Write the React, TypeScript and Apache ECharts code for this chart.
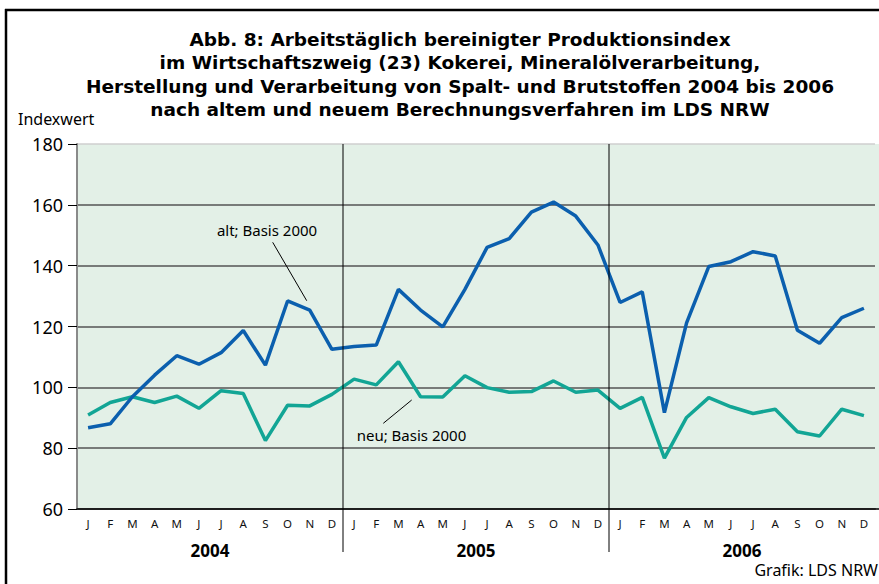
import React, { useEffect, useRef } from "react";
import * as echarts from "echarts";

const months = ["J", "F", "M", "A", "M", "J", "J", "A", "S", "O", "N", "D"];
const years = ["2004", "2005", "2006"];
const categories: string[] = years.flatMap(() => months);

const altValues = [
  86.7, 88.0, 96.9, 104.0, 110.4, 107.6, 111.4, 118.7, 107.3, 128.4, 125.4, 112.5,
  113.4, 113.9, 132.2, 125.4, 119.9, 132.2, 146.0, 148.9, 157.6, 160.9, 156.3, 146.8,
  127.9, 131.4, 91.7, 121.2, 139.7, 141.3, 144.6, 143.2, 118.8, 114.5, 122.9, 126.0,
];
const neuValues = [
  90.9, 95.0, 96.9, 95.0, 97.1, 93.1, 98.9, 98.0, 82.5, 94.1, 93.9, 97.7,
  102.7, 100.8, 108.4, 96.9, 96.8, 103.8, 99.9, 98.4, 98.6, 102.1, 98.4, 99.1,
  93.1, 96.7, 76.7, 90.1, 96.6, 93.6, 91.4, 92.8, 85.4, 84.0, 92.8, 90.7,
];

const yMin = 60;
const yMax = 180;
const yStep = 20;

const titleLines = [
  "Abb. 8: Arbeitstäglich bereinigter Produktionsindex",
  "im Wirtschaftszweig (23) Kokerei, Mineralölverarbeitung,",
  "Herstellung und Verarbeitung von Spalt- und Brutstoffen 2004 bis 2006",
  "nach altem und neuem Berechnungsverfahren im LDS NRW",
];

const FONT = "'Noto Sans', 'Open Sans', sans-serif";
const TITLE_FONT = "'DejaVu Sans', sans-serif";
const BLUE = "#0b5fae";
const TEAL = "#12a595";
const BG = "#e3f0e7";

export default function App() {
  const ref = useRef<HTMLDivElement>(null);

  useEffect(() => {
    document.body.style.margin = "0";
    if (!ref.current) return;
    const chart = echarts.init(ref.current, null, { renderer: "svg" });

    const gridLeft = 77;
    const gridTop = 144;
    const gridWidth = 798;
    const gridBottomY = 509;

    const option: any = {
      animation: false,
      backgroundColor: "#ffffff",
      title: {
        text: titleLines.join("\n"),
        left: 460,
        top: 28,
        padding: 0,
        textAlign: "center",
        textStyle: {
          fontFamily: TITLE_FONT,
          fontWeight: "bold",
          fontSize: 18.5,
          lineHeight: 23.3,
          color: "#000",
        },
      },
      grid: {
        left: gridLeft,
        top: gridTop,
        width: gridWidth,
        height: gridBottomY - gridTop,
        show: true,
        backgroundColor: BG,
        borderWidth: 0,
      },
      xAxis: [
        {
          type: "category",
          data: categories,
          boundaryGap: true,
          axisLine: { show: true, lineStyle: { color: "#000", width: 1.5 } },
          axisTick: { show: false },
          axisLabel: {
            interval: 0,
            fontFamily: FONT,
            fontSize: 11.5,
            color: "#111",
            margin: 8,
          },
          splitLine: { show: false },
        },
        {
          type: "category",
          data: years,
          position: "bottom",
          offset: 26,
          boundaryGap: true,
          axisLine: { show: false },
          axisTick: { show: false },
          axisLabel: {
            interval: 0,
            fontFamily: FONT,
            fontWeight: "bold",
            fontSize: 17,
            color: "#000",
            margin: 7,
          },
        },
      ],
      yAxis: {
        type: "value",
        min: yMin,
        max: yMax,
        interval: yStep,
        name: "Indexwert",
        nameLocation: "end",
        nameGap: 17,
        nameTextStyle: {
          fontFamily: FONT,
          fontSize: 16,
          color: "#000",
          align: "left",
          padding: [0, 0, 0, -59],
        },
        axisLine: { show: true, lineStyle: { color: "#8a8a8a", width: 2 } },
        axisTick: { show: true, length: 9, lineStyle: { color: "#000", width: 1 } },
        axisLabel: {
          fontFamily: FONT,
          fontSize: 18,
          color: "#000",
          margin: 14,
        },
        splitLine: {
          show: true,
          lineStyle: {
            color: ["#555", "#555", "#555", "#555", "#555", "#555", "#cfcfcf"],
            width: 1.5,
          },
        },
      },
      series: [
        {
          name: "alt; Basis 2000",
          type: "line",
          data: altValues,
          symbol: "none",
          lineStyle: { color: BLUE, width: 3.5 },
          itemStyle: { color: BLUE },
          z: 3,
        },
        {
          name: "neu; Basis 2000",
          type: "line",
          data: neuValues,
          symbol: "none",
          lineStyle: { color: TEAL, width: 3.5 },
          itemStyle: { color: TEAL },
          z: 2,
        },
      ],
    };

    chart.setOption(option);

    // Year divider lines at the boundaries between years, computed from the axis scale
    const px = (i: number) => chart.convertToPixel({ xAxisIndex: 0 }, i) as number;
    const boundaries = [12, 24].map((i) => (px(i - 1) + px(i)) / 2);

    const graphics: any[] = [
      // outer frame
      { type: "line", shape: { x1: 5, y1: 10, x2: 879, y2: 10 }, style: { stroke: "#000", lineWidth: 2.5 } },
      { type: "line", shape: { x1: 6, y1: 9, x2: 6, y2: 584 }, style: { stroke: "#000", lineWidth: 2.5 } },
      // plot background extension to right edge
      { type: "rect", shape: { x: gridLeft + gridWidth, y: gridTop, width: 879 - gridLeft - gridWidth, height: gridBottomY - gridTop }, style: { fill: BG }, z: -1 },
      { type: "line", shape: { x1: gridLeft + gridWidth, y1: gridBottomY, x2: 879, y2: gridBottomY }, style: { stroke: "#000", lineWidth: 1.5 } },
      ...boundaries.map((x) => ({
        type: "line",
        shape: { x1: x, y1: gridTop, x2: x, y2: 552 },
        style: { stroke: "#000", lineWidth: 1 },
        z: 10,
      })),
      // annotations
      {
        type: "text",
        x: 267,
        y: 230,
        style: { text: "alt; Basis 2000", font: `15px ${FONT}`, fill: "#000", textAlign: "center", textVerticalAlign: "middle" },
        z: 10,
      },
      { type: "line", shape: { x1: 272.7, y1: 242.3, x2: 306.7, y2: 300.7 }, style: { stroke: "#000", lineWidth: 1 }, z: 10 },
      {
        type: "text",
        x: 356.7,
        y: 435,
        style: { text: "neu; Basis 2000", font: `15px ${FONT}`, fill: "#000", textAlign: "left", textVerticalAlign: "middle" },
        z: 10,
      },
      { type: "line", shape: { x1: 411.7, y1: 400, x2: 383.3, y2: 423.3 }, style: { stroke: "#000", lineWidth: 1 }, z: 10 },
      {
        type: "text",
        x: 878,
        y: 570,
        style: { text: "Grafik: LDS NRW", font: `16px ${FONT}`, fill: "#000", textAlign: "right", textVerticalAlign: "middle" },
        z: 10,
      },
    ];
    chart.setOption({ graphic: graphics });

    return () => chart.dispose();
  }, []);

  return <div ref={ref} style={{ width: 879, height: 584 }} />;
}
